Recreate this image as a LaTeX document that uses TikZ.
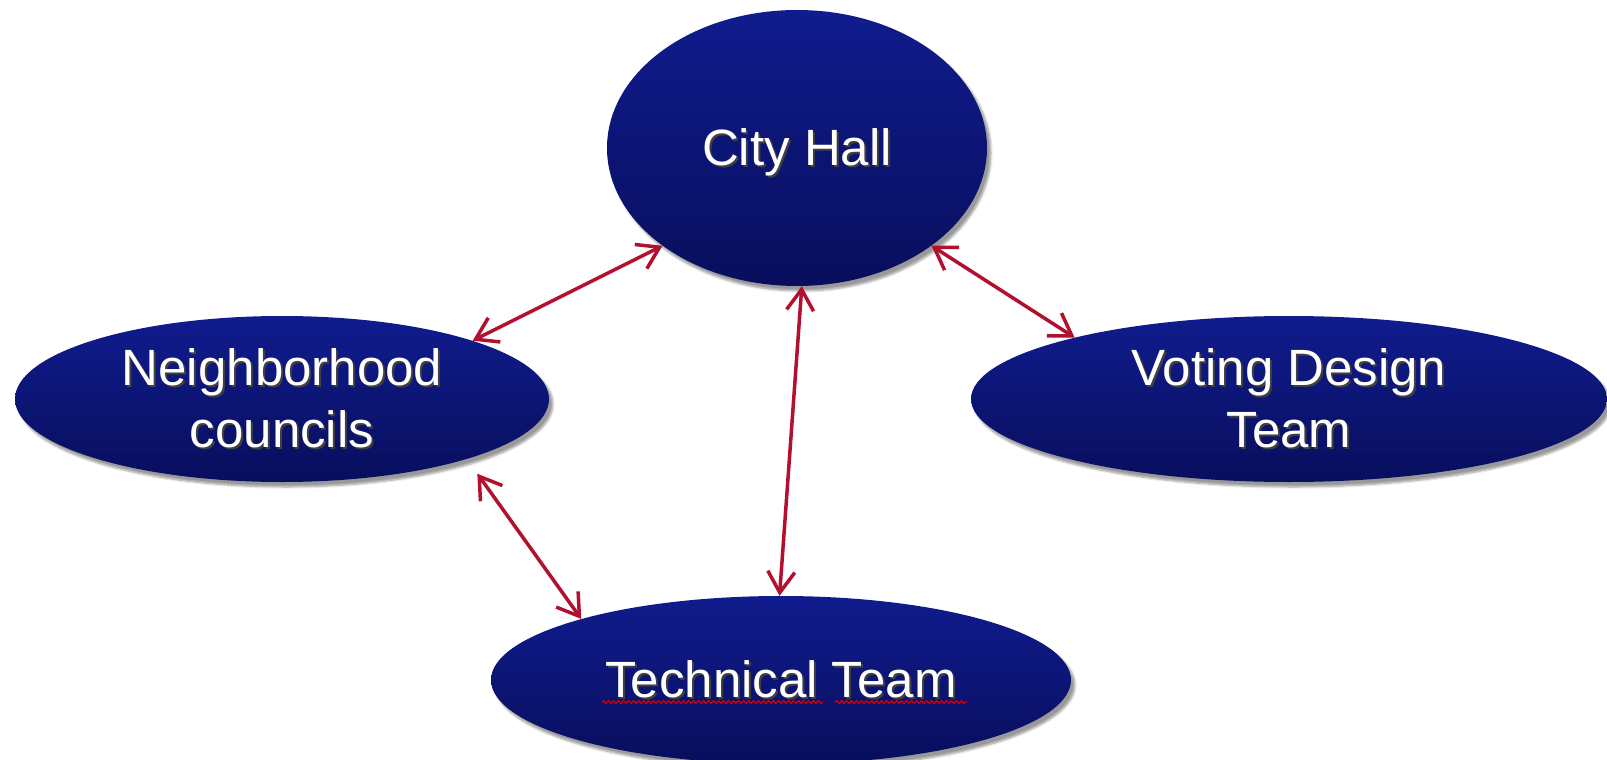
\documentclass[tikz,border=0pt]{standalone}
\usepackage{fontspec}
\setmainfont{Liberation Sans}
\usetikzlibrary{arrows.meta,shapes.geometric,shadows.blur,calc,decorations.pathmorphing}

\definecolor{ovaltop}{RGB}{16,28,142}
\definecolor{ovalbottom}{RGB}{8,14,92}
\definecolor{linkred}{RGB}{178,16,46}

\newcommand\shadedlabel[1]{%
  \raisebox{0pt}[\height][\dimexpr\depth-12pt\relax]{%
  \makebox[0pt][l]{\hspace{2pt}\raisebox{-2pt}{\textcolor{black!75}{\begin{tabular}{@{}c@{}}#1\end{tabular}}}}%
  \textcolor{white}{\begin{tabular}{@{}c@{}}#1\end{tabular}}}}

\tikzset{
  oval/.style={ellipse,inner sep=-8pt,top color=ovaltop,bottom color=ovalbottom,
    blur shadow={shadow xshift=4pt,shadow yshift=-5pt,shadow blur steps=6,shadow opacity=40},
    font=\fontsize{51}{62}\selectfont},
  link/.style={linkred,line width=3.5pt,{Straight Barb[length=21pt,width=27pt]}-{Straight Barb[length=21pt,width=27pt]}},
  squiggle/.style={red!85!black,line width=1.2pt,decorate,decoration={snake,amplitude=1.4pt,segment length=5pt}}
}

\begin{document}
\begin{tikzpicture}[x=1pt,y=1pt]

\useasboundingbox (0,0) rectangle (1607,-760);

% the four groups
\node (ch) [oval,minimum width=380,minimum height=276] at (797,-148) {\shadedlabel{City Hall}};
\node (nc) [oval,minimum width=534,minimum height=166] at (282,-399) {\shadedlabel{Neighborhood\\councils}};
\node (vd) [oval,minimum width=636,minimum height=166] at (1289,-399) {\shadedlabel{Voting Design\\Team}};
\node (tt) [oval,minimum width=580,minimum height=168] at (781,-680) {\shadedlabel{Technical Team}};

% spell-check marks under the last label
\draw [squiggle] ($(tt.center)+(-179,-22)$) -- ++(221,0);
\draw [squiggle] ($(tt.center)+(54,-22)$) -- ++(132,0);

% links
\draw [link] (nc.17) -- (ch.216);
\draw [link] (ch.324) -- (vd.164.6);
\draw [link] (ch.272) -- (tt.91);
\draw [link,shorten <=18pt] (nc.342.6) -- (tt.163.3);

\end{tikzpicture}
\end{document}
